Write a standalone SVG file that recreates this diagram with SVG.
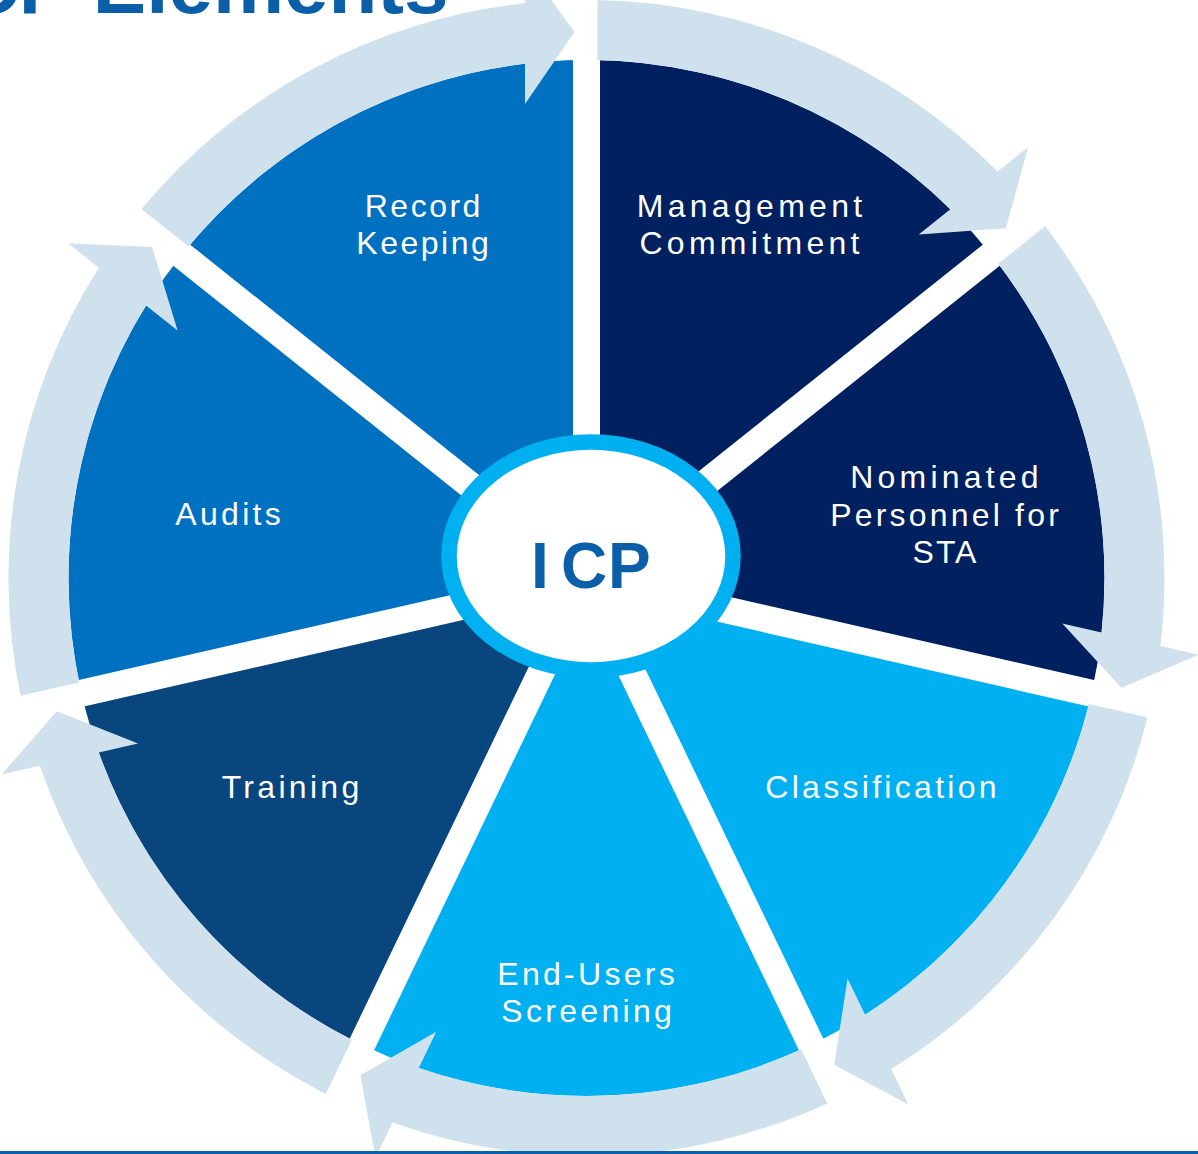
<svg xmlns="http://www.w3.org/2000/svg" xmlns:xlink="http://www.w3.org/1999/xlink" width="1198" height="1154" viewBox="0 0 1198 1154">
  <style>
    .navy{fill:#002060}
    .mid{fill:#0070C0}
    .sky{fill:#00B0F0}
    .deep{fill:#09467D}
    .gap{stroke:#FFFFFF;stroke-width:27;fill:none}
    .arrow{fill:#CFE1ED}
    .lbl{font-family:"Liberation Sans",Arial,sans-serif;font-size:32px;fill:#FFFFFF;text-anchor:middle;letter-spacing:3.3px}
    .title{font-family:"Liberation Sans",Arial,sans-serif;font-size:80px;font-weight:bold;fill:#0B5EA8}
  </style>
  <defs>
    <path id="arr" d="M11,-577.90 A578,578 0 0 1 410.99,-406.41 L441.70,-430.90 L419.40,-349.81 L332.25,-343.61 L363.79,-368.77 A518,518 0 0 0 11,-517.88 Z"/>
  </defs>
  <rect x="0" y="0" width="1198" height="1154" fill="#FFFFFF"/>
  <text class="title" x="448.5" y="12.7" text-anchor="end">ICP Elements</text>

  <g id="management-commitment">
    <path class="navy" d="M586.5,578 L586.5,60 A518,518 0 0 1 991.49,255.03 Z"/>
    <text class="lbl" style="letter-spacing:4.3px" x="751.6" y="216.7">Management</text>
    <text class="lbl" style="letter-spacing:4.3px" x="751.6" y="254">Commitment</text>
  </g>
  <g id="nominated-personnel">
    <path class="navy" d="M586.5,578 L991.49,255.03 A518,518 0 0 1 1091.51,693.27 Z"/>
    <text class="lbl" style="letter-spacing:4.2px" x="946.6" y="487.5">Nominated</text>
    <text class="lbl" style="letter-spacing:3.2px" x="946.1" y="525.5">Personnel for</text>
    <text class="lbl" style="letter-spacing:2px" x="945.5" y="563">STA</text>
  </g>
  <g id="classification">
    <path class="sky" d="M586.5,578 L1091.51,693.27 A518,518 0 0 1 811.25,1044.70 Z"/>
    <text class="lbl" x="882.6" y="798">Classification</text>
  </g>
  <g id="end-users-screening">
    <path class="sky" d="M586.5,578 L811.25,1044.70 A518,518 0 0 1 361.75,1044.70 Z"/>
    <text class="lbl" x="587.7" y="984.5">End-Users</text>
    <text class="lbl" x="588.2" y="1022">Screening</text>
  </g>
  <g id="training">
    <path class="deep" d="M586.5,578 L361.75,1044.70 A518,518 0 0 1 81.49,693.27 Z"/>
    <text class="lbl" x="292.1" y="798">Training</text>
  </g>
  <g id="audits">
    <path class="mid" d="M586.5,578 L81.49,693.27 A518,518 0 0 1 181.51,255.03 Z"/>
    <text class="lbl" x="229.7" y="525">Audits</text>
  </g>
  <g id="record-keeping">
    <path class="mid" d="M586.5,578 L181.51,255.03 A518,518 0 0 1 586.5,60 Z"/>
    <text class="lbl" style="letter-spacing:2.5px" x="423.8" y="217.3">Record</text>
    <text class="lbl" style="letter-spacing:2.5px" x="423.8" y="254">Keeping</text>
  </g>

  <g id="gaps">
    <line class="gap" x1="586.5" y1="578" x2="586.5" y2="38"/>
    <line class="gap" x1="586.5" y1="578" x2="1008.69" y2="241.32"/>
    <line class="gap" x1="586.5" y1="578" x2="1112.96" y2="698.16"/>
    <line class="gap" x1="586.5" y1="578" x2="820.80" y2="1064.52"/>
    <line class="gap" x1="586.5" y1="578" x2="352.20" y2="1064.52"/>
    <line class="gap" x1="586.5" y1="578" x2="60.04" y2="698.16"/>
    <line class="gap" x1="586.5" y1="578" x2="164.31" y2="241.32"/>
  </g>

  <g id="connectors" transform="translate(586.5 578)">
    <use class="arrow" xlink:href="#arr" href="#arr"/>
    <use class="arrow" xlink:href="#arr" href="#arr" transform="rotate(51.4286)"/>
    <use class="arrow" xlink:href="#arr" href="#arr" transform="rotate(102.8571)"/>
    <use class="arrow" xlink:href="#arr" href="#arr" transform="rotate(154.2857)"/>
    <use class="arrow" xlink:href="#arr" href="#arr" transform="rotate(205.7143)"/>
    <use class="arrow" xlink:href="#arr" href="#arr" transform="rotate(257.1429)"/>
    <use class="arrow" xlink:href="#arr" href="#arr" transform="rotate(308.5714)"/>
  </g>

  <g id="icp">
    <ellipse cx="591" cy="556" rx="142" ry="114" fill="#FFFFFF" stroke="#00B0F0" stroke-width="15.5"/>
    <text x="531 561 608" y="588" font-family="Liberation Sans, Arial, sans-serif" font-size="64" font-weight="bold" fill="#0B5EA8">ICP</text>
  </g>

  <rect x="0" y="1151" width="1198" height="3" fill="#0B5EA8"/>
</svg>
